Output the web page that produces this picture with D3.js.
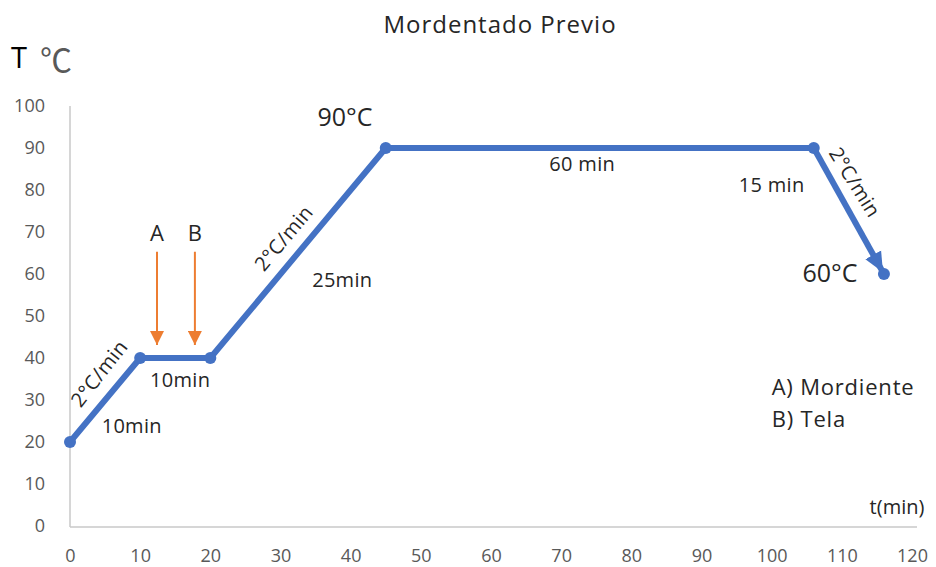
<!DOCTYPE html>
<html>
<head>
<meta charset="utf-8">
<script src="https://cdn.jsdelivr.net/npm/d3@7"></script>
<style>
  html, body { margin: 0; padding: 0; background: #fff; }
  svg { display: block; font-family: "Open Sans", "Noto Sans", sans-serif; }
</style>
</head>
<body>
<svg id="chart" width="936" height="567"></svg>
<script>
// ---- data ----
const xTicks = [0, 10, 20, 30, 40, 50, 60, 70, 80, 90, 100, 110, 120];
const yTicks = [0, 10, 20, 30, 40, 50, 60, 70, 80, 90, 100];
const times = [0, 10, 20, 45, 106, 116];
const temps = [20, 40, 40, 90, 90, 60];
const markerTimes = [12.4, 17.8];
const markerLabels = ["A", "B"];
const markerTop = 65.3;
const markerTip = 43.1;
const title = "Mordentado Previo";
const legendLines = ["A) Mordiente", "B) Tela"];
// annotation texts, anchored in data units
const annotations = [
  { t: "10min", x: 8.8, y: 24.0, r: 0 },
  { t: "10min", x: 15.7, y: 34.8, r: 0 },
  { t: "25min", x: 38.8, y: 58.6, r: 0 },
  { t: "60 min", x: 73.0, y: 86.2, r: 0 },
  { t: "15 min", x: 100.0, y: 81.4, r: 0 },
  { t: "2°C/min", x: 4.1, y: 36.4, r: -52 },
  { t: "2°C/min", x: 30.4, y: 68.6, r: -50 },
  { t: "2°C/min", x: 111.9, y: 81.9, r: 58 }
];
const bigLabels = [
  { t: "90°C", x: 39.2, y: 97.6 },
  { t: "60°C", x: 108.3, y: 60.5 }
];

// ---- layout ----
const svg = d3.select("#chart");
const x = d3.scaleLinear().domain([0, 120]).range([70, 912]);
const y = d3.scaleLinear().domain([0, 100]).range([526, 106]);

// axes
const xAxis = svg.append("g").attr("transform", `translate(0,${y(0)})`)
  .call(d3.axisBottom(x).tickValues(xTicks).tickSize(0).tickPadding(23));
xAxis.select(".domain").remove();
xAxis.selectAll("text").attr("font-size", 18).attr("fill", "#595959")
  .attr("font-family", "Open Sans");
svg.append("line").attr("x1", x(0)).attr("x2", x(120) + 5)
  .attr("y1", y(0) + 1).attr("y2", y(0) + 1)
  .attr("stroke", "#c8c8c8").attr("stroke-width", 1.5);

const yAxis = svg.append("g").attr("transform", `translate(${x(0)},0)`)
  .call(d3.axisLeft(y).tickValues(yTicks).tickSize(0).tickPadding(25));
yAxis.select(".domain").remove();
yAxis.selectAll("text").attr("font-size", 18).attr("fill", "#595959")
  .attr("font-family", "Open Sans");
svg.append("line").attr("x1", x(0)).attr("x2", x(0))
  .attr("y1", y(100)).attr("y2", y(0) + 1)
  .attr("stroke", "#c8c8c8").attr("stroke-width", 1.5);

// title
svg.append("text").attr("x", 500).attr("y", 33).attr("text-anchor", "middle")
  .attr("font-size", 24).attr("letter-spacing", 1).attr("fill", "#262626").text(title);

// axis titles
svg.append("text").attr("x", 11).attr("y", 68).attr("font-size", 29)
  .attr("fill", "#000").text("T");
svg.append("text").attr("x", 40).attr("y", 72).attr("font-size", 32)
  .attr("fill", "#595959").attr("font-family", "Noto Sans CJK SC").text("℃");
svg.append("text").attr("x", 897).attr("y", 506).attr("text-anchor", "middle")
  .attr("dominant-baseline", "central").attr("font-size", 20).attr("fill", "#262626")
  .text("t(min)");

// defs
const defs = svg.append("defs");
defs.append("marker").attr("id", "blueArrow").attr("markerUnits", "userSpaceOnUse")
  .attr("viewBox", "0 0 20 20").attr("refX", 22).attr("refY", 10)
  .attr("markerWidth", 20).attr("markerHeight", 20).attr("orient", "auto")
  .append("path").attr("d", "M0,1 L20,10 L0,19 Z").attr("fill", "#4472C4");
defs.append("marker").attr("id", "orangeArrow").attr("markerUnits", "userSpaceOnUse")
  .attr("viewBox", "0 0 14 14").attr("refX", 14).attr("refY", 7)
  .attr("markerWidth", 14).attr("markerHeight", 14).attr("orient", "auto")
  .append("path").attr("d", "M0,0 L14,7 L0,14 Z").attr("fill", "#ED7D31");

// main series
const pts = times.map((t, i) => [t, temps[i]]);
const line = d3.line().x(d => x(d[0])).y(d => y(d[1]));
svg.append("path").datum(pts.slice(0, pts.length - 1)).attr("d", line)
  .attr("fill", "none").attr("stroke", "#4472C4").attr("stroke-width", 6)
  .attr("stroke-linejoin", "round");
svg.append("path").datum(pts.slice(pts.length - 2)).attr("d", line)
  .attr("fill", "none").attr("stroke", "#4472C4").attr("stroke-width", 6)
  .attr("marker-end", "url(#blueArrow)");
svg.selectAll("circle.pt").data(pts).enter().append("circle")
  .attr("class", "pt").attr("cx", d => x(d[0])).attr("cy", d => y(d[1]))
  .attr("r", 6).attr("fill", "#4472C4");

// orange arrows A, B
markerTimes.forEach((t, i) => {
  svg.append("line").attr("x1", x(t)).attr("x2", x(t))
    .attr("y1", y(markerTop)).attr("y2", y(markerTip))
    .attr("stroke", "#ED7D31").attr("stroke-width", 2)
    .attr("marker-end", "url(#orangeArrow)");
  svg.append("text").attr("x", x(t)).attr("y", y(markerTop) - 20)
    .attr("text-anchor", "middle").attr("dominant-baseline", "central")
    .attr("font-size", 22).attr("fill", "#262626").text(markerLabels[i]);
});

// annotations
annotations.forEach(a => {
  svg.append("text")
    .attr("transform", `translate(${x(a.x)},${y(a.y)}) rotate(${a.r})`)
    .attr("text-anchor", "middle").attr("dominant-baseline", "central")
    .attr("font-size", 20).attr("letter-spacing", 0.3).attr("fill", "#262626").text(a.t);
});
bigLabels.forEach(a => {
  svg.append("text").attr("x", x(a.x)).attr("y", y(a.y))
    .attr("text-anchor", "middle").attr("dominant-baseline", "central")
    .attr("font-size", 25).attr("fill", "#262626").text(a.t);
});

// legend text
legendLines.forEach((t, i) => {
  svg.append("text").attr("x", x(100)).attr("y", y(33.3) + i * 32)
    .attr("dominant-baseline", "central").attr("font-size", 22)
    .attr("letter-spacing", 0.8).attr("fill", "#262626").text(t);
});
</script>
</body>
</html>
